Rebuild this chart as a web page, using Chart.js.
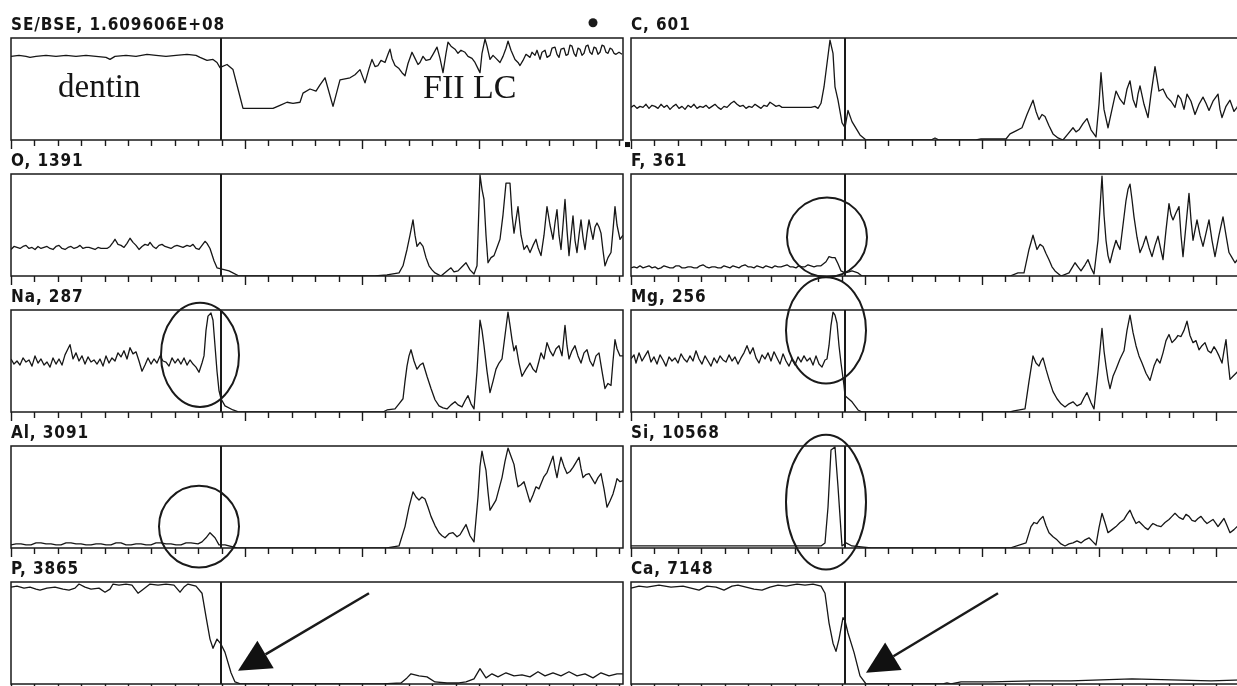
<!DOCTYPE html>
<html>
<head>
<meta charset="utf-8">
<script src="https://cdn.jsdelivr.net/npm/chart.js@4.4.1/dist/chart.umd.min.js"></script>
<style>
  body { margin: 0; background: #fff; }
  #page { position: relative; width: 1237px; height: 686px; overflow: hidden; background: #fff; }
  #page canvas { position: absolute; left: 0; top: 0; }
  .title { position: absolute; font: bold 17px "DejaVu Sans Condensed", "DejaVu Sans", sans-serif; letter-spacing: 0.9px; line-height: 18px; color: #151515; white-space: nowrap; }
  .label { position: absolute; font-family: "Liberation Serif", serif; color: #151515; white-space: nowrap; line-height: 1; }
</style>
</head>
<body>
<div id="page"></div>
<script>
// scan profiles, [step along the scan line, % of full scale]
const seBse = [[0,82],[8,83],[15,82],[19,81],[25,82],[35,83],[45,82],[55,83],[65,82],[75,83],[85,82],[95,81],[99,79],[104,82],[115,83],[125,82],[136,84],[145,83],[155,82],[165,83],[176,84],[185,83],[189,81],[196,78],[202,79],[206,76],[209,71],[211,72],[216,74],[222,69],[227,50],[232,31],[262,31],[269,34],[276,37],[282,36],[289,37],[292,46],[299,50],[305,48],[309,54],[314,61],[322,33],[329,59],[339,61],[344,64],[349,69],[354,56],[358,70],[361,79],[364,72],[367,73],[370,78],[374,76],[377,84],[379,89],[381,80],[384,73],[388,70],[391,66],[394,63],[397,75],[401,86],[404,80],[407,74],[409,76],[412,82],[415,78],[419,79],[422,84],[426,91],[429,80],[432,66],[435,85],[437,96],[440,92],[444,89],[447,85],[450,88],[454,86],[457,82],[461,80],[464,76],[467,70],[469,66],[471,85],[474,99],[476,92],[479,79],[482,83],[485,80],[489,76],[492,82],[495,90],[497,97],[500,88],[504,79],[507,76],[509,73],[512,78],[515,84],[519,81],[521,86],[524,83],[526,88],[529,79],[531,86],[534,88],[536,81],[539,83],[541,90],[544,91],[546,84],[548,81],[550,89],[553,90],[555,83],[557,84],[559,93],[561,92],[563,85],[565,82],[567,90],[569,89],[571,83],[573,85],[575,92],[577,93],[579,86],[581,84],[583,91],[585,90],[587,84],[589,86],[591,93],[593,92],[595,86],[597,85],[599,90],[601,89],[603,85],[605,84],[608,86],[611,84]];
const carbon = [[0,32],[3,34],[6,31],[9,33],[12,32],[15,35],[18,31],[21,34],[24,33],[27,31],[30,35],[33,32],[36,34],[39,30],[42,33],[45,35],[48,31],[51,33],[54,30],[57,34],[60,32],[63,35],[66,31],[69,33],[72,32],[75,34],[78,31],[81,33],[84,35],[87,32],[90,30],[93,33],[96,32],[100,36],[103,38],[106,35],[109,33],[112,34],[115,31],[118,33],[121,32],[124,35],[127,33],[130,31],[133,34],[136,33],[139,37],[142,35],[145,33],[148,34],[151,32],[156,32],[162,32],[168,32],[174,32],[180,32],[184,33],[187,31],[190,36],[193,52],[196,75],[199,98],[202,85],[204,52],[207,39],[211,17],[214,12],[217,29],[221,18],[229,5],[235,0],[300,0],[304,2],[308,0],[345,0],[350,1],[375,1],[379,6],[385,9],[391,12],[396,25],[402,39],[405,28],[408,20],[411,25],[414,23],[418,14],[422,6],[427,2],[432,0],[437,6],[442,12],[445,8],[448,10],[452,16],[456,21],[460,10],[465,3],[468,35],[470,66],[473,30],[477,12],[481,30],[485,48],[489,40],[493,35],[496,50],[499,58],[502,40],[505,32],[507,45],[509,53],[513,35],[517,22],[520,45],[524,72],[526,60],[528,48],[532,50],[536,42],[540,38],[544,32],[547,44],[550,40],[553,30],[556,45],[560,38],[564,25],[568,35],[572,42],[575,36],[578,29],[582,38],[587,45],[589,30],[591,22],[595,33],[599,39],[603,28],[606,32],[609,38],[612,35]];
const oxygen = [[0,26],[3,29],[6,28],[9,27],[12,29],[15,30],[18,27],[21,28],[24,26],[27,29],[30,27],[33,28],[36,29],[39,27],[42,26],[45,29],[48,30],[51,27],[54,26],[57,28],[60,29],[63,27],[66,28],[69,30],[72,27],[75,28],[78,28],[81,27],[84,26],[87,28],[90,27],[93,27],[96,27],[99,29],[102,33],[104,36],[107,31],[110,30],[113,28],[116,32],[119,37],[122,33],[125,30],[128,26],[131,29],[134,31],[137,30],[139,33],[142,29],[145,27],[148,30],[151,31],[154,29],[157,28],[160,27],[163,29],[166,30],[169,29],[172,28],[176,30],[179,29],[182,31],[185,27],[188,26],[191,30],[194,34],[196,32],[199,27],[203,15],[206,8],[210,7],[218,5],[228,0],[364,0],[376,1],[388,3],[392,10],[396,26],[399,40],[402,55],[404,40],[406,29],[409,33],[412,29],[415,18],[418,10],[421,6],[424,3],[430,0],[436,5],[440,8],[443,4],[447,5],[451,9],[455,13],[459,6],[463,2],[466,10],[469,99],[471,85],[473,75],[475,40],[477,13],[480,18],[483,20],[486,28],[489,36],[492,60],[495,91],[499,91],[501,60],[503,42],[505,55],[507,68],[510,40],[513,26],[516,30],[519,23],[522,30],[525,36],[527,28],[530,20],[533,40],[536,68],[539,50],[542,36],[544,52],[546,65],[548,40],[550,26],[552,50],[554,75],[556,45],[558,20],[560,40],[562,59],[564,35],[566,23],[568,40],[570,55],[572,38],[574,26],[576,42],[578,55],[580,45],[582,36],[584,48],[586,52],[588,48],[590,42],[592,25],[594,10],[597,18],[600,23],[602,45],[604,68],[606,50],[609,36],[612,40]];
const fluorine = [[0,8],[3,9],[6,8],[9,10],[12,8],[15,9],[18,10],[21,8],[24,9],[27,7],[30,8],[33,10],[36,9],[39,8],[42,8],[45,10],[48,10],[51,8],[54,8],[57,9],[60,9],[63,8],[66,8],[69,10],[72,11],[75,9],[78,8],[81,9],[84,9],[87,8],[90,8],[93,10],[96,9],[99,8],[102,10],[105,9],[108,8],[111,10],[114,11],[117,9],[120,9],[123,8],[126,10],[129,9],[132,8],[135,10],[138,9],[141,8],[144,10],[147,9],[150,9],[153,10],[156,11],[159,9],[162,9],[165,8],[168,10],[171,9],[174,9],[177,11],[180,10],[183,9],[186,10],[190,10],[195,14],[198,19],[201,18],[204,18],[207,12],[210,5],[214,3],[218,4],[221,5],[227,3],[231,0],[379,0],[387,3],[393,3],[398,26],[402,40],[406,26],[409,31],[412,29],[415,22],[418,16],[421,9],[424,5],[430,0],[438,3],[441,8],[444,13],[447,9],[450,5],[454,11],[457,16],[460,8],[463,2],[467,35],[471,98],[473,60],[475,35],[477,20],[479,13],[482,25],[485,35],[487,30],[489,26],[492,50],[495,74],[497,85],[499,90],[501,75],[503,58],[506,38],[509,23],[512,30],[515,39],[518,28],[521,19],[524,30],[527,39],[530,25],[532,16],[535,45],[538,71],[540,60],[542,55],[545,62],[548,68],[550,40],[552,19],[555,50],[558,81],[560,55],[562,35],[564,45],[566,55],[569,40],[572,29],[575,42],[578,55],[581,35],[584,19],[588,40],[592,58],[595,40],[598,23],[601,18],[604,13],[608,18],[612,20]];
const sodium = [[0,52],[3,47],[6,50],[9,46],[12,53],[15,49],[18,51],[21,45],[24,55],[27,48],[30,52],[33,46],[36,49],[39,44],[42,53],[45,47],[48,52],[51,46],[54,56],[57,62],[59,66],[62,52],[65,58],[68,50],[71,55],[74,47],[77,54],[80,49],[83,51],[86,47],[89,52],[92,45],[95,55],[98,48],[101,53],[104,50],[107,58],[110,54],[113,60],[116,52],[119,63],[122,57],[125,59],[128,50],[131,40],[134,46],[137,53],[140,47],[143,52],[146,48],[149,55],[152,50],[155,49],[158,45],[161,53],[164,48],[167,52],[170,47],[173,53],[176,46],[179,51],[182,47],[185,44],[188,39],[191,48],[193,55],[195,80],[197,94],[200,97],[202,90],[204,65],[206,40],[208,21],[210,13],[214,6],[222,2],[228,0],[372,0],[376,2],[384,3],[388,8],[392,13],[394,30],[396,45],[398,55],[400,61],[403,50],[406,42],[409,46],[412,48],[416,35],[420,23],[424,12],[428,6],[432,4],[436,3],[440,7],[444,10],[447,7],[451,5],[454,11],[457,16],[460,8],[463,3],[466,40],[469,90],[471,80],[473,65],[476,40],[479,19],[482,30],[485,42],[488,48],[491,52],[494,75],[497,98],[499,85],[501,71],[503,60],[505,65],[508,48],[511,35],[515,42],[519,48],[522,42],[525,39],[528,50],[530,58],[533,52],[536,68],[539,60],[542,55],[545,62],[548,65],[551,55],[554,85],[556,65],[558,52],[561,60],[564,65],[567,55],[570,48],[573,58],[576,61],[579,50],[582,45],[585,55],[588,58],[591,40],[594,23],[597,28],[600,26],[602,50],[604,71],[606,62],[609,55],[612,55]];
const magnesium = [[0,52],[3,56],[5,48],[8,58],[11,50],[14,55],[17,60],[20,49],[23,54],[26,47],[29,56],[32,51],[35,45],[38,54],[41,50],[44,53],[47,48],[50,57],[53,52],[56,49],[59,55],[62,50],[65,60],[68,52],[71,47],[74,55],[77,50],[80,45],[83,53],[86,48],[89,55],[92,51],[95,49],[98,56],[101,50],[104,54],[107,47],[110,53],[113,58],[116,65],[119,57],[122,63],[125,53],[128,48],[131,56],[134,52],[137,58],[140,50],[143,59],[146,53],[149,47],[152,57],[155,50],[158,45],[161,52],[164,46],[167,54],[170,49],[173,55],[176,50],[179,53],[182,46],[185,55],[188,47],[191,44],[194,51],[196,52],[198,65],[200,85],[202,98],[204,95],[206,87],[208,65],[210,48],[213,26],[214,16],[221,10],[227,2],[231,0],[379,0],[383,1],[394,3],[398,30],[402,55],[405,48],[408,45],[410,50],[412,53],[415,42],[418,32],[422,20],[426,13],[430,8],[434,5],[438,8],[442,10],[446,6],[450,8],[453,14],[456,19],[460,9],[463,3],[467,40],[471,82],[473,60],[475,45],[477,32],[479,23],[482,35],[485,42],[489,52],[493,60],[496,80],[499,95],[502,78],[505,65],[508,55],[511,48],[515,38],[519,31],[523,45],[526,52],[529,48],[532,58],[535,70],[538,76],[541,68],[544,71],[547,75],[550,74],[553,80],[556,89],[559,75],[562,68],[565,70],[568,61],[571,65],[574,68],[577,60],[580,58],[583,64],[585,61],[588,55],[591,48],[593,60],[595,71],[597,50],[599,32],[602,35],[606,39],[609,40],[612,42]];
const aluminium = [[0,3],[5,4],[10,4],[15,3],[20,3],[25,5],[30,5],[35,4],[40,4],[45,3],[50,3],[55,5],[60,5],[65,4],[70,4],[75,3],[80,3],[85,4],[90,4],[95,3],[100,3],[105,5],[110,5],[115,3],[120,3],[125,4],[130,4],[135,3],[140,3],[145,5],[150,5],[155,4],[160,4],[165,3],[170,3],[175,5],[180,5],[187,4],[191,6],[195,10],[199,15],[204,10],[208,3],[214,3],[226,0],[376,0],[388,2],[394,21],[398,40],[402,55],[405,50],[408,47],[411,50],[414,48],[417,40],[420,31],[424,22],[428,15],[431,12],[434,10],[438,14],[442,15],[446,11],[449,13],[452,18],[455,23],[459,12],[463,6],[467,50],[469,80],[471,95],[473,85],[475,76],[477,55],[479,37],[482,42],[485,47],[488,58],[491,69],[494,85],[497,98],[500,90],[503,82],[505,70],[507,60],[510,62],[513,65],[516,55],[519,45],[522,52],[525,60],[528,58],[530,63],[533,70],[536,74],[539,82],[542,90],[544,78],[546,69],[548,80],[550,89],[553,80],[556,73],[559,75],[562,79],[565,84],[568,89],[570,78],[572,69],[575,72],[578,73],[581,68],[584,63],[587,69],[590,73],[593,58],[596,40],[599,46],[602,53],[604,60],[606,68],[609,65],[612,66]];
const silicon = [[0,2],[40,2],[80,2],[120,2],[160,2],[190,2],[194,5],[197,40],[200,96],[204,99],[207,60],[211,2],[215,5],[221,2],[240,0],[379,0],[395,5],[400,21],[403,25],[406,24],[409,28],[412,31],[415,22],[418,15],[422,11],[426,8],[430,4],[434,2],[438,4],[442,5],[446,7],[450,5],[454,8],[458,10],[462,6],[465,3],[468,20],[471,34],[474,25],[477,15],[481,18],[485,21],[489,25],[493,28],[496,33],[499,37],[502,30],[505,24],[508,26],[511,23],[514,20],[517,18],[520,22],[522,24],[526,22],[530,21],[534,25],[538,28],[541,31],[544,34],[548,30],[552,28],[555,33],[558,31],[561,27],[564,26],[567,29],[570,31],[573,27],[576,24],[579,26],[582,28],[585,24],[587,21],[590,25],[593,29],[596,22],[599,15],[603,18],[606,21],[609,19],[612,22]];
const phosphorus = [[0,95],[6,96],[13,94],[19,95],[25,93],[29,92],[36,94],[44,95],[52,93],[58,92],[64,94],[68,98],[74,95],[80,93],[88,94],[94,90],[99,93],[102,98],[108,97],[115,98],[121,97],[127,89],[131,92],[139,98],[147,97],[155,98],[163,97],[169,90],[173,95],[177,98],[185,96],[191,89],[195,66],[199,44],[202,35],[206,44],[210,39],[214,31],[220,11],[224,2],[230,0],[372,0],[390,1],[396,6],[400,10],[408,8],[416,7],[424,2],[436,1],[448,1],[455,2],[463,5],[469,15],[475,6],[481,10],[487,7],[495,11],[503,8],[511,9],[519,7],[527,12],[534,8],[542,11],[550,8],[558,12],[566,8],[574,10],[582,6],[590,11],[598,8],[606,10],[612,10]];
const calcium = [[0,94],[8,96],[16,95],[28,97],[40,95],[52,96],[60,94],[68,92],[76,96],[85,95],[93,92],[101,96],[107,97],[115,95],[123,93],[131,92],[139,95],[147,97],[155,96],[166,98],[174,97],[182,98],[190,96],[194,89],[198,60],[202,40],[205,32],[208,44],[212,65],[214,62],[217,50],[223,31],[229,8],[235,0],[312,0],[316,1],[320,0],[330,2],[360,2],[402,3],[440,3],[470,4],[501,5],[540,4],[580,3],[612,4]];

const titles = ['SE/BSE, 1.609606E+08', 'C, 601', 'O, 1391', 'F, 361', 'Na, 287', 'Mg, 256', 'Al, 3091', 'Si, 10568', 'P, 3865', 'Ca, 7148'];
const series = [seBse, carbon, oxygen, fluorine, sodium, magnesium, aluminium, silicon, phosphorus, calcium];
const interfaceStep = [210, 214, 210, 214, 210, 214, 210, 214, 210, 214];

// marks drawn over the scans, in scan coordinates of their panel
const circles = [
  { panel: 3, x: 196, y: 38, rx: 40, ry: 39 },
  { panel: 4, x: 189, y: 56, rx: 39, ry: 51 },
  { panel: 5, x: 195, y: 80, rx: 40, ry: 52 },
  { panel: 6, x: 188, y: 21, rx: 40, ry: 40 },
  { panel: 7, x: 195, y: 45, rx: 40, ry: 66 }
];
const arrows = [
  { panel: 8, x0: 358, y0: 89, x1: 227, y1: 13 },
  { panel: 9, x0: 367, y0: 89, x1: 235, y1: 11 }
];

// layout
const scanLength = 612;
const tickStep = 23.4;
const longTicks = [0, 10, 15, 20, 25];
const colLeft = [11, 631];
const rowTop = [38, 174, 310, 446, 582];
const boxHeight = 102;
const canvasW = 1250, canvasH = 686;

const page = document.getElementById('page');

function framePlugin(i) {
  return {
    id: 'frame' + i,
    afterDatasetsDraw(chart) {
      const ctx = chart.ctx;
      const a = chart.chartArea;
      const x = chart.scales.x, y = chart.scales.y;
      ctx.save();
      ctx.strokeStyle = '#1a1a1a';
      ctx.lineWidth = 1.5;
      ctx.strokeRect(a.left, a.top, a.right - a.left, a.bottom - a.top);

      // tick marks under the box
      ctx.lineWidth = 1.4;
      ctx.beginPath();
      for (let k = 0; k * tickStep <= scanLength + 1; k++) {
        const px = Math.round(x.getPixelForValue(k * tickStep)) + 0.5;
        const len = longTicks.includes(k) ? 9 : 6;
        ctx.moveTo(px, a.bottom);
        ctx.lineTo(px, a.bottom + len);
      }
      ctx.stroke();

      // interface line
      const ix = x.getPixelForValue(interfaceStep[i]);
      ctx.lineWidth = 2;
      ctx.beginPath();
      ctx.moveTo(ix, a.top);
      ctx.lineTo(ix, a.bottom);
      ctx.stroke();

      ctx.lineWidth = 2;
      circles.filter(c => c.panel === i).forEach(c => {
        const cx = x.getPixelForValue(c.x), cy = y.getPixelForValue(c.y);
        const rx = Math.abs(x.getPixelForValue(c.x + c.rx) - cx);
        const ry = Math.abs(y.getPixelForValue(c.y + c.ry) - cy);
        ctx.beginPath();
        ctx.ellipse(cx, cy, rx, ry, 0, 0, Math.PI * 2);
        ctx.stroke();
      });

      arrows.filter(r => r.panel === i).forEach(r => {
        const sx = x.getPixelForValue(r.x0), sy = y.getPixelForValue(r.y0);
        const tx = x.getPixelForValue(r.x1), ty = y.getPixelForValue(r.y1);
        const len = Math.hypot(tx - sx, ty - sy);
        const ux = (tx - sx) / len, uy = (ty - sy) / len;
        const bx = tx - ux * 32, by = ty - uy * 32;
        ctx.lineWidth = 2.5;
        ctx.beginPath();
        ctx.moveTo(sx, sy);
        ctx.lineTo(bx, by);
        ctx.stroke();
        ctx.fillStyle = '#111';
        ctx.beginPath();
        ctx.moveTo(tx, ty);
        ctx.lineTo(bx - uy * 16, by + ux * 16);
        ctx.lineTo(bx + uy * 16, by - ux * 16);
        ctx.closePath();
        ctx.fill();
      });

      if (i === 0) {
        // marker dot above the SE/BSE box
        ctx.fillStyle = '#1a1a1a';
        ctx.beginPath();
        ctx.arc(x.getPixelForValue(582), y.getPixelForValue(115), 4.5, 0, Math.PI * 2);
        ctx.fill();
      }
      if (i === 1) {
        ctx.fillStyle = '#111';
        const qx = x.getPixelForValue(-6), qy = y.getPixelForValue(-2);
        ctx.fillRect(qx, qy, 5, 5);
      }
      ctx.restore();
    }
  };
}

series.forEach((pts, i) => {
  const col = i % 2, row = Math.floor(i / 2);
  const left = colLeft[col], top = rowTop[row];

  const canvas = document.createElement('canvas');
  canvas.width = canvasW;
  canvas.height = canvasH;
  canvas.style.width = canvasW + 'px';
  canvas.style.height = canvasH + 'px';
  page.appendChild(canvas);

  const title = document.createElement('div');
  title.className = 'title';
  title.textContent = titles[i];
  title.style.left = left + 'px';
  title.style.top = (top - 23) + 'px';
  page.appendChild(title);

  new Chart(canvas, {
    type: 'line',
    data: {
      datasets: [{
        data: pts.map(p => ({ x: p[0], y: p[1] })),
        borderColor: '#161616',
        borderWidth: 1.3,
        pointRadius: 0,
        tension: 0,
        borderJoinStyle: 'round'
      }]
    },
    options: {
      responsive: false,
      animation: false,
      events: [],
      layout: {
        padding: {
          left: left,
          top: top,
          right: canvasW - left - scanLength,
          bottom: canvasH - top - boxHeight
        }
      },
      scales: {
        x: { type: 'linear', min: 0, max: scanLength, display: false },
        y: { type: 'linear', min: 0, max: 100, display: false }
      },
      plugins: {
        legend: { display: false },
        tooltip: { enabled: false }
      }
    },
    plugins: [framePlugin(i)]
  });
});

// region labels inside the SE/BSE panel
const labels = [
  { text: 'dentin', left: 58, top: 70, size: 33 },
  { text: 'FII LC', left: 423, top: 70, size: 34 }
];
labels.forEach(l => {
  const d = document.createElement('div');
  d.className = 'label';
  d.textContent = l.text;
  d.style.left = l.left + 'px';
  d.style.top = l.top + 'px';
  d.style.fontSize = l.size + 'px';
  page.appendChild(d);
});
</script>
</body>
</html>
